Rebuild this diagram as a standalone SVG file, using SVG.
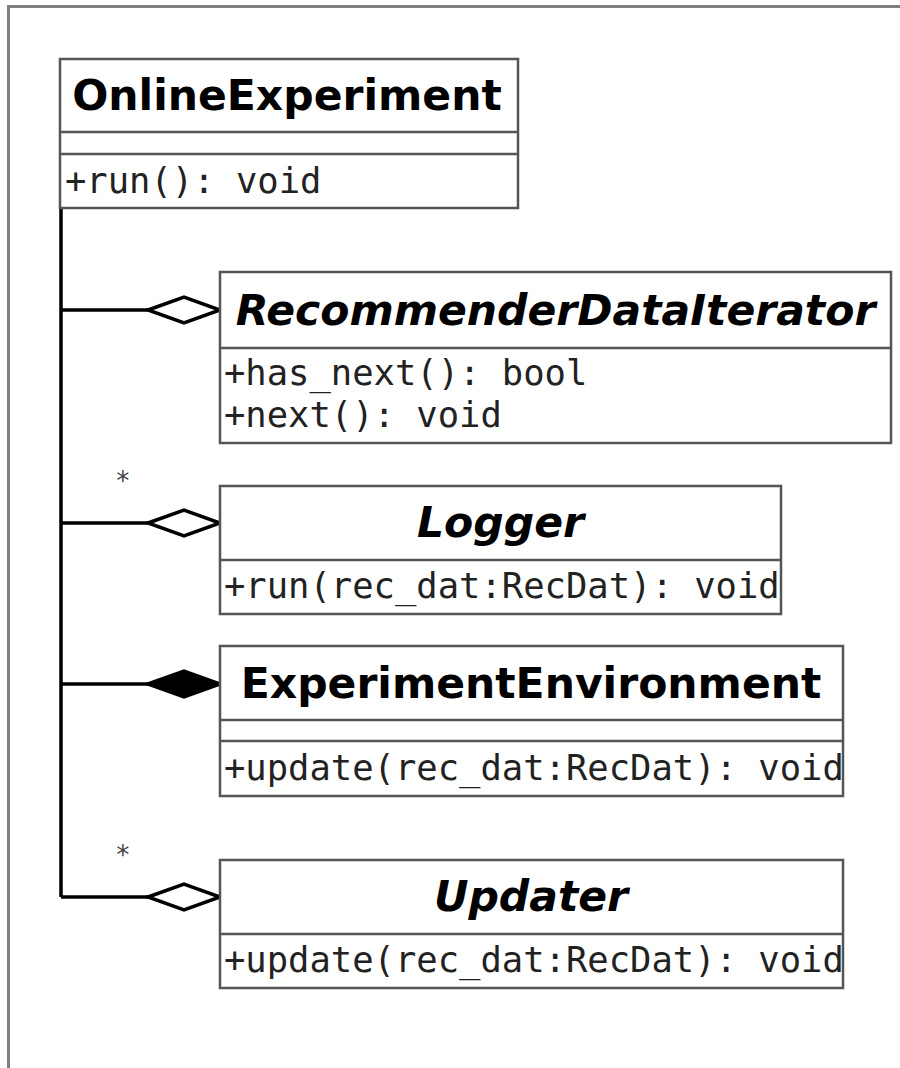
<svg xmlns="http://www.w3.org/2000/svg" width="900" height="1068" viewBox="0 0 900 1068">
<style>
.box{fill:#fff;stroke:#555;stroke-width:2.5}
.sep{stroke:#555;stroke-width:2.5}
.title{font-family:"DejaVu Sans",sans-serif;font-weight:bold;font-size:42.5px;fill:#000;text-anchor:middle}
.it{font-style:italic}
.m{font-family:"DejaVu Sans Mono",monospace;font-size:35.5px;fill:#222}
.conn{fill:none;stroke:#000;stroke-width:3.5}
.agg{fill:#fff;stroke:#000;stroke-width:3.5}
.comp{fill:#000;stroke:#000;stroke-width:3.5}
.mult{font-family:"DejaVu Sans Mono",monospace;font-size:26px;fill:#444}
</style>
<rect x="0" y="0" width="900" height="1068" fill="#fff"/>
<path d="M8.5 1068 V6.5 H900" fill="none" stroke="#808080" stroke-width="3"/>
<g id="connectors">
<path class="conn" d="M61 208 V897"/>
<path class="conn" d="M61 310 H150"/>
<path class="conn" d="M61 523 H150"/>
<path class="conn" d="M61 684 H150"/>
<path class="conn" d="M61 897 H150"/>
<path class="agg" d="M148 310 L184 297 L220 310 L184 323 Z"/>
<path class="agg" d="M148 523 L184 510 L220 523 L184 536 Z"/>
<path class="comp" d="M148 684 L184 671 L220 684 L184 697 Z"/>
<path class="agg" d="M148 897 L184 884 L220 897 L184 910 Z"/>
<text class="mult" x="115" y="490">*</text>
<text class="mult" x="115" y="864">*</text>
</g>
<g id="OnlineExperiment">
<rect class="box" x="60" y="59" width="458" height="149"/>
<line class="sep" x1="60" y1="132" x2="518" y2="132"/>
<line class="sep" x1="60" y1="154" x2="518" y2="154"/>
<text class="title" x="287" y="110">OnlineExperiment</text>
<text class="m" x="65" y="193">+run(): void</text>
</g>
<g id="RecommenderDataIterator">
<rect class="box" x="220" y="272" width="671" height="171"/>
<line class="sep" x1="220" y1="348" x2="891" y2="348"/>
<text class="title it" x="555.5" y="325">RecommenderDataIterator</text>
<text class="m" x="224" y="385">+has_next(): bool</text>
<text class="m" x="224" y="427">+next(): void</text>
</g>
<g id="Logger">
<rect class="box" x="220" y="486" width="561" height="128"/>
<line class="sep" x1="220" y1="560" x2="781" y2="560"/>
<text class="title it" x="500.5" y="537">Logger</text>
<text class="m" x="224" y="598">+run(rec_dat:RecDat): void</text>
</g>
<g id="ExperimentEnvironment">
<rect class="box" x="220" y="646" width="623" height="150"/>
<line class="sep" x1="220" y1="720" x2="843" y2="720"/>
<line class="sep" x1="220" y1="741" x2="843" y2="741"/>
<text class="title" x="531" y="698">ExperimentEnvironment</text>
<text class="m" x="224" y="780">+update(rec_dat:RecDat): void</text>
</g>
<g id="Updater">
<rect class="box" x="220" y="860" width="623" height="128"/>
<line class="sep" x1="220" y1="934" x2="843" y2="934"/>
<text class="title it" x="531" y="911">Updater</text>
<text class="m" x="224" y="972">+update(rec_dat:RecDat): void</text>
</g>
</svg>
